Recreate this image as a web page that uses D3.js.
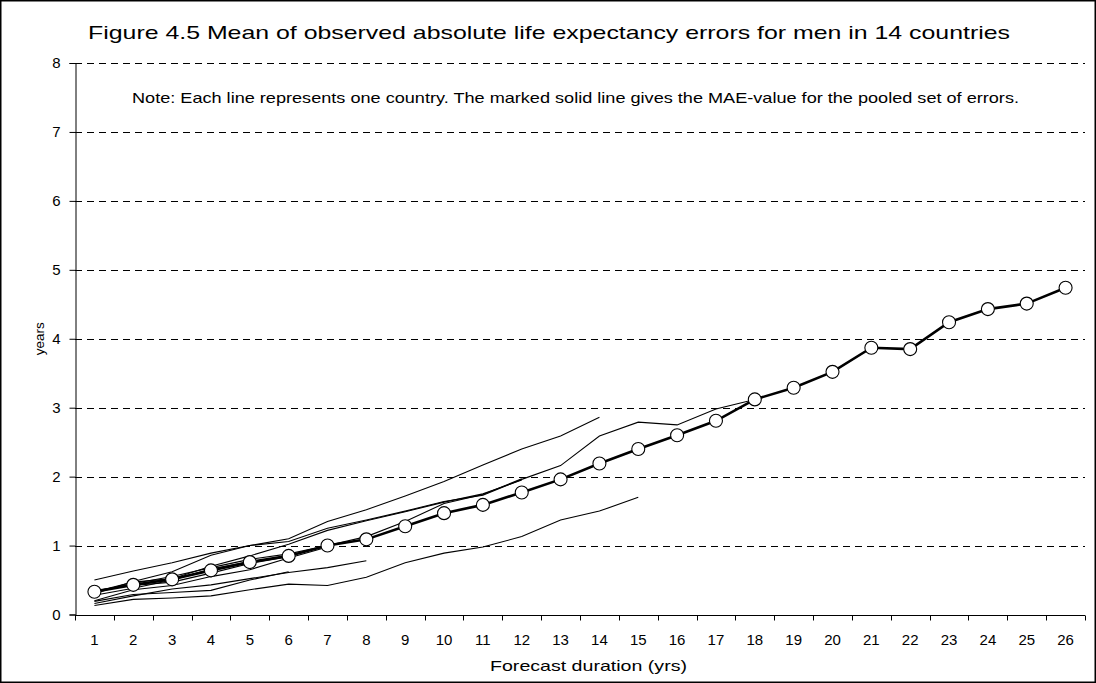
<!DOCTYPE html>
<html>
<head>
<meta charset="utf-8">
<script src="https://cdn.jsdelivr.net/npm/d3@7"></script>
<style>
    body { margin: 0; background: #fff; }
    svg text { font-family: "Liberation Sans", Arial, sans-serif; fill: #000; }
</style>
</head>
<body>
<div id="chart"></div>
<script>
// forecast durations (categories on the x axis)
const durations = [1,2,3,4,5,6,7,8,9,10,11,12,13,14,15,16,17,18,19,20,21,22,23,24,25,26];
const yTicks = [0,1,2,3,4,5,6,7,8];

// pooled MAE (the marked line)
const meanMAE = [0.33,0.43,0.51,0.64,0.76,0.85,1.00,1.09,1.28,1.47,1.59,1.77,1.96,2.19,2.40,2.60,2.81,3.12,3.29,3.52,3.87,3.85,4.24,4.43,4.51,4.74];

// single countries (each starts at duration 1)
const countryA = [0.50,0.63,0.75,0.89,1.00,1.10,1.35,1.52,1.72,1.93,2.17,2.40,2.59,2.86];
const countryB = [0.30,0.48,0.62,0.86,1.00,1.06,1.25,1.37,1.50,1.64,1.73,1.96,2.16,2.59,2.79,2.75,2.98,3.12];
const countryC = [0.33,0.45,0.55,0.68,0.80,0.88,1.00,1.13,1.35,1.61,1.74,1.97];
const countryD = [0.13,0.22,0.24,0.27,0.36,0.44,0.42,0.54,0.75,0.89,0.98,1.13,1.37,1.50,1.70];
const countryE = [0.16,0.27,0.37,0.43,0.52,0.61,0.68,0.78];
const countryF = [0.20,0.36,0.42,0.55,0.65,0.82,0.98];
const countryI = [0.35,0.42,0.47,0.60,0.74,0.84];
const countryJ = [0.28,0.38,0.50,0.66,0.77];
const countryK = [0.19,0.29,0.32,0.35,0.50,0.62];
const countryL = [0.33,0.47,0.52,0.70,0.85,1.02,1.22,1.36,1.49,1.63,1.75,1.95];

const titleText = 'Figure 4.5 Mean of observed absolute life expectancy errors for men in 14 countries';
const noteText = 'Note: Each line represents one country. The marked solid line gives the MAE-value for the pooled set of errors.';

const width = 1096, height = 683;
const plot = {left: 75, right: 1085, top: 63, bottom: 614.5};

const svg = d3.select('#chart').append('svg')
    .attr('width', width)
    .attr('height', height);

// outer frame
svg.append('rect')
    .attr('x', 0.75).attr('y', 0.75)
    .attr('width', width - 1.5).attr('height', height - 1.5)
    .attr('fill', '#fff')
    .attr('stroke', '#000')
    .attr('stroke-width', 1.5);

const xScale = d3.scaleBand()
    .domain(durations)
    .range([plot.left, plot.right])
    .padding(0);

const yScale = d3.scaleLinear()
    .domain([0, 8])
    .range([plot.bottom, plot.top]);

const xMid = d => xScale(d) + xScale.bandwidth() / 2;

// dashed gridlines
svg.append('g')
    .attr('class', 'grid')
    .selectAll('line')
    .data(yTicks.filter(d => d > 0))
    .enter().append('line')
    .attr('x1', plot.left).attr('x2', plot.right)
    .attr('y1', d => Math.round(yScale(d)) + 0.5)
    .attr('y2', d => Math.round(yScale(d)) + 0.5)
    .attr('stroke', '#000')
    .attr('stroke-width', 1)
    .attr('stroke-dasharray', '7,5');

// y axis
const yAxis = d3.axisLeft(yScale).tickValues(yTicks).tickSize(6).tickPadding(9);
const yG = svg.append('g')
    .attr('transform', 'translate(' + (plot.left + 0.5) + ',0)')
    .call(yAxis);
yG.select('.domain').attr('stroke', '#000');
yG.selectAll('text').attr('font-size', 15);

// x axis: ticks on category boundaries, labels centred
const xAxis = d3.axisBottom(xScale).tickSize(0).tickPadding(19);
const xG = svg.append('g')
    .attr('transform', 'translate(0,' + (Math.round(plot.bottom) + 0.5) + ')')
    .call(xAxis);
xG.select('.domain').remove();
xG.selectAll('text').attr('font-size', 15);
xG.append('line')
    .attr('x1', plot.left).attr('x2', plot.right)
    .attr('stroke', '#000');
xG.selectAll('line.boundary')
    .data(durations.concat([null]))
    .enter().append('line')
    .attr('class', 'boundary')
    .attr('x1', (d, i) => Math.round(plot.left + i * xScale.bandwidth()) + 0.5)
    .attr('x2', (d, i) => Math.round(plot.left + i * xScale.bandwidth()) + 0.5)
    .attr('y1', 0).attr('y2', 5)
    .attr('stroke', '#000');

// country lines
const countries = [countryA, countryB, countryC, countryD, countryE, countryF, countryI, countryJ, countryK, countryL];
const line = d3.line()
    .x((d, i) => xMid(durations[i]))
    .y(d => yScale(d));

svg.append('g')
    .attr('class', 'countries')
    .selectAll('path')
    .data(countries)
    .enter().append('path')
    .attr('d', line)
    .attr('fill', 'none')
    .attr('stroke', '#000')
    .attr('stroke-width', 1.1);

// pooled MAE line with markers
svg.append('path')
    .datum(meanMAE)
    .attr('d', line)
    .attr('fill', 'none')
    .attr('stroke', '#000')
    .attr('stroke-width', 2.6);

svg.append('g')
    .selectAll('circle')
    .data(meanMAE)
    .enter().append('circle')
    .attr('cx', (d, i) => xMid(durations[i]))
    .attr('cy', d => yScale(d))
    .attr('r', 6.5)
    .attr('fill', '#fff')
    .attr('stroke', '#000')
    .attr('stroke-width', 1.1);

// texts
svg.append('text')
    .attr('x', 88).attr('y', 39)
    .attr('font-size', 18.5)
    .attr('textLength', 922)
    .attr('lengthAdjust', 'spacingAndGlyphs')
    .text(titleText);

svg.append('text')
    .attr('x', 132).attr('y', 103)
    .attr('font-size', 14.5)
    .attr('textLength', 887)
    .attr('lengthAdjust', 'spacingAndGlyphs')
    .text(noteText);

svg.append('text')
    .attr('x', 490).attr('y', 671)
    .attr('font-size', 15)
    .attr('textLength', 197)
    .attr('lengthAdjust', 'spacingAndGlyphs')
    .text('Forecast duration (yrs)');

svg.append('text')
    .attr('transform', 'translate(44,' + ((plot.top + plot.bottom) / 2) + ') rotate(-90)')
    .attr('text-anchor', 'middle')
    .attr('font-size', 13.5)
    .text('years');
</script>
</body>
</html>
